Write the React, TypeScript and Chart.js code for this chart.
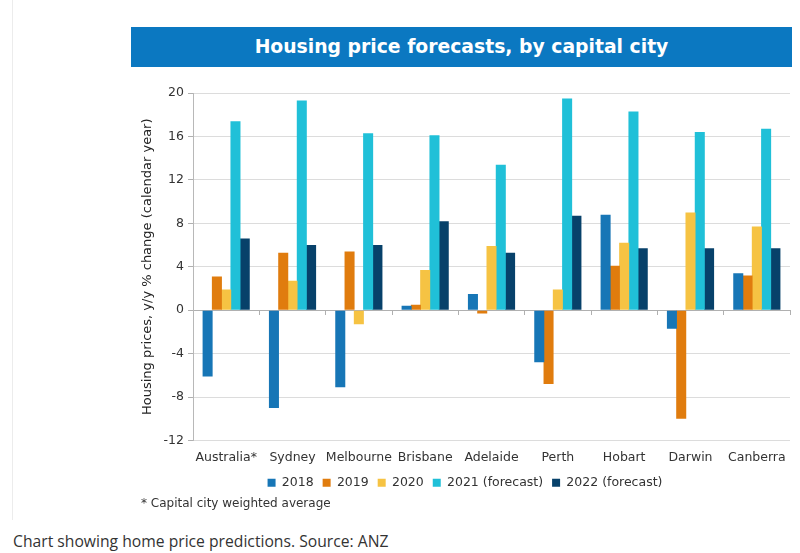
import { useEffect, useRef } from 'react';
import { Chart, registerables } from 'chart.js';

Chart.register(...registerables);

const categories = ['Australia*', 'Sydney', 'Melbourne', 'Brisbane', 'Adelaide', 'Perth', 'Hobart', 'Darwin', 'Canberra'];
const values2018 = [-6.1, -9.0, -7.1, 0.4, 1.5, -4.8, 8.8, -1.7, 3.4];
const values2019 = [3.1, 5.3, 5.4, 0.5, -0.3, -6.8, 4.1, -10.0, 3.2];
const values2020 = [1.9, 2.7, -1.3, 3.7, 5.9, 1.9, 6.2, 9.0, 7.7];
const values2021 = [17.4, 19.3, 16.3, 16.1, 13.4, 19.5, 18.3, 16.4, 16.7];
const values2022 = [6.6, 6.0, 6.0, 8.2, 5.3, 8.7, 5.7, 5.7, 5.7];
const seriesLabels = ['2018', '2019', '2020', '2021 (forecast)', '2022 (forecast)'];
const seriesColors = ['#1776b6', '#e07c0e', '#f6c343', '#20c0d8', '#07416a'];
const yTitle = 'Housing prices, y/y % change (calendar year)';
const chartTitle = 'Housing price forecasts, by capital city';
const footnote = '* Capital city weighted average';
const caption = 'Chart showing home price predictions. Source: ANZ';

const FONT = "'DejaVu Sans', Verdana, sans-serif";

export default function App() {
  const canvasRef = useRef<HTMLCanvasElement | null>(null);

  useEffect(() => {
    if (!canvasRef.current) return;
    const all = [values2018, values2019, values2020, values2021, values2022];
    const chart = new Chart(canvasRef.current, {
      type: 'bar',
      data: {
        labels: categories,
        datasets: all.map((d, i) => ({
          label: seriesLabels[i],
          data: d,
          backgroundColor: seriesColors[i],
          borderWidth: 0,
          barPercentage: 1.08,
          categoryPercentage: 0.7,
        })),
      },
      options: {
        animation: false,
        responsive: false,
        maintainAspectRatio: false,
        layout: { padding: { left: 10, right: 10, top: 12, bottom: 0 } },
        plugins: {
          legend: {
            position: 'bottom',
            labels: {
              boxWidth: 8,
              boxHeight: 8,
              padding: 9,
              color: '#333',
              font: { family: FONT, size: 12.5 },
            },
          },
          tooltip: { enabled: false },
          title: { display: false },
        },
        scales: {
          x: {
            grid: { display: false },
            border: { display: false },
            ticks: { color: '#333', font: { family: FONT, size: 12.5 }, maxRotation: 0, autoSkip: false, padding: 2 },
          },
          x2: {
            type: 'category',
            labels: categories,
            position: { y: 0 },
            offset: true,
            grid: { drawOnChartArea: false, offset: true, tickLength: 4, color: '#b0b0b0' },
            border: { display: true, color: '#b0b0b0' },
            ticks: { display: false },
          },
          y: {
            min: -12,
            max: 20,
            ticks: { stepSize: 4, color: '#333', font: { family: FONT, size: 12.5 }, padding: 4 },
            grid: { color: '#dcdcdc', tickLength: 5, tickColor: '#b0b0b0' },
            border: { display: true, color: '#b8b8b8' },
            title: { display: true, text: yTitle, color: '#222', font: { family: FONT, size: 13 }, padding: { top: 0, bottom: 4 } },
          },
        },
      },
    });
    return () => chart.destroy();
  }, []);

  return (
    <div style={{ position: 'absolute', left: 0, top: 0, width: 800, height: 553, background: '#fff', overflow: 'hidden' }}>
      <div style={{ position: 'absolute', left: 12, top: 0, width: 1, height: 520, background: '#ececec' }} />
      <div
        style={{
          position: 'absolute', left: 131, top: 27, width: 661, height: 40, background: '#0b78c1',
          color: '#fff', fontFamily: FONT, fontWeight: 'bold', fontSize: 18.8, lineHeight: '40px', textAlign: 'center',
        }}
      >
        {chartTitle}
      </div>
      <canvas ref={canvasRef} width={670} height={418} style={{ position: 'absolute', left: 130, top: 81, width: 670, height: 418 }} />
      <div style={{ position: 'absolute', left: 141, top: 496, fontFamily: FONT, fontSize: 12, color: '#333', whiteSpace: 'nowrap' }}>{footnote}</div>
      <div style={{ position: 'absolute', left: 13, top: 530, fontFamily: "'Open Sans', sans-serif", fontSize: 15.7, color: '#333', whiteSpace: 'nowrap' }}>{caption}</div>
    </div>
  );
}
